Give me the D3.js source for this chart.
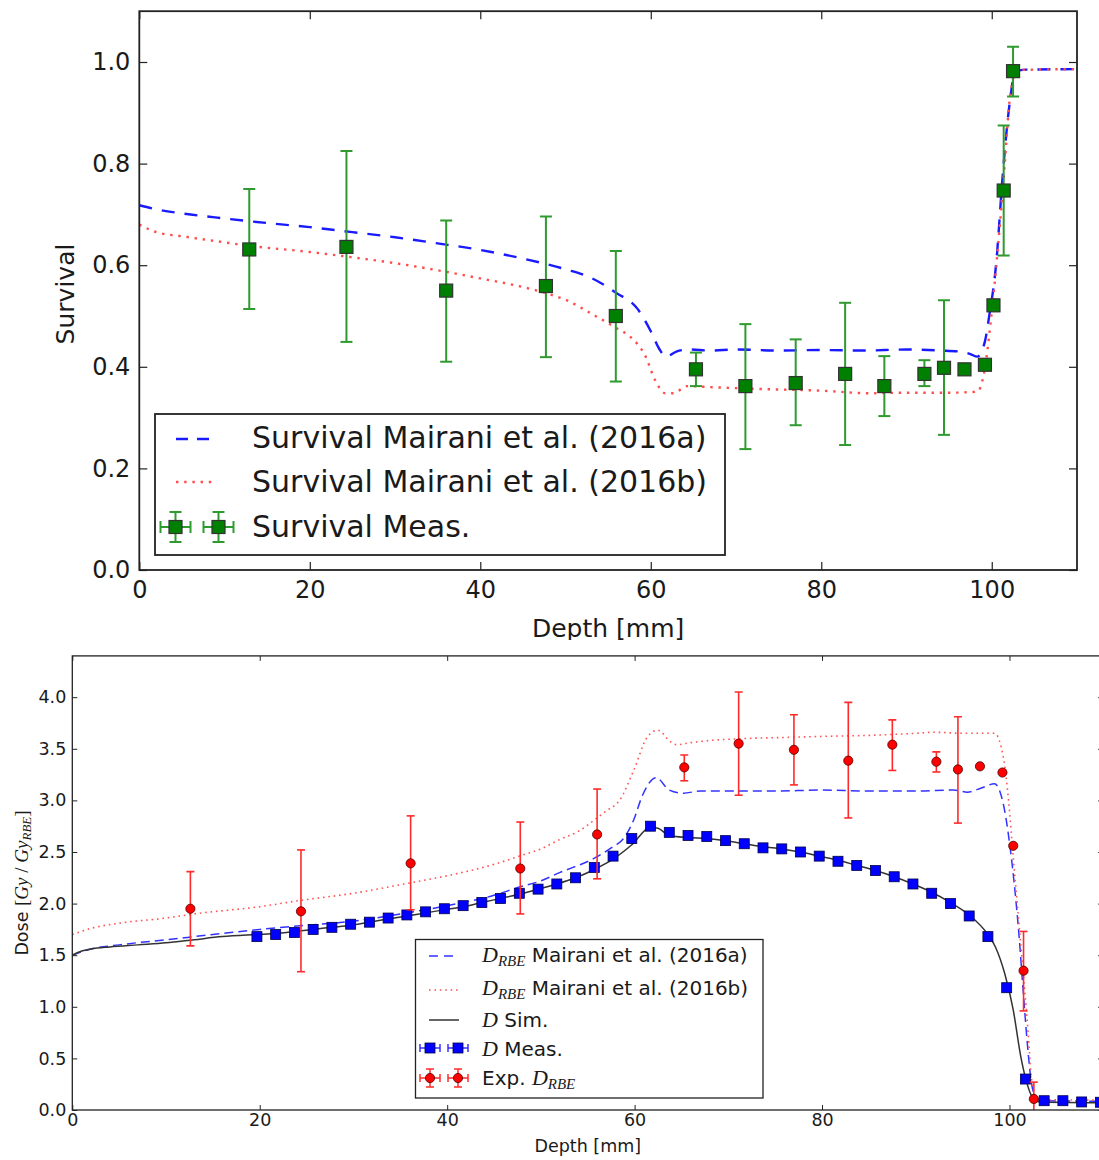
<!DOCTYPE html>
<html>
<head>
<meta charset="utf-8">
<script src="https://cdn.jsdelivr.net/npm/d3@7"></script>
<style>
  body { margin: 0; background: #fff; }
  svg { display: block; }
  text { font-family: "DejaVu Sans", sans-serif; fill: #1a1a1a; }
</style>
</head>
<body>
<script>
// ---------------- Survival panel data ----------------
const survTickX = [0, 20, 40, 60, 80, 100];
const survTickY = [0, 0.2, 0.4, 0.6, 0.8, 1.0];

// Survival, Mairani et al. (2016a)
const survADepth = [0, 2, 5, 10, 15, 20, 25, 30, 35, 40, 45, 50, 53, 56, 58.4, 60, 61, 61.8, 63, 64.5, 67, 70, 75, 80, 85, 90, 94, 96.2, 97.5, 98.3, 99.2, 99.7, 100.5, 101.3, 102, 102.8, 104, 110];
const survAValue = [0.718, 0.71, 0.702, 0.692, 0.683, 0.675, 0.665, 0.655, 0.643, 0.630, 0.613, 0.592, 0.575, 0.545, 0.515, 0.47, 0.435, 0.42, 0.43, 0.434, 0.432, 0.434, 0.432, 0.433, 0.432, 0.434, 0.432, 0.43, 0.425, 0.42, 0.45, 0.5, 0.6, 0.78, 0.905, 0.981, 0.985, 0.986];

// Survival, Mairani et al. (2016b)
const survBDepth = [0, 2, 5, 10, 13, 20, 24.3, 30, 36, 40, 45, 47.7, 50, 53.3, 56, 57.6, 59.4, 60.5, 61.7, 62.6, 64.3, 67, 70, 73.5, 80, 85.6, 90, 95, 98.3, 99.1, 99.9, 100.7, 101.5, 102.1, 102.95, 105, 110];
const survBValue = [0.68, 0.665, 0.657, 0.645, 0.638, 0.626, 0.617, 0.604, 0.587, 0.574, 0.557, 0.545, 0.532, 0.502, 0.476, 0.459, 0.42, 0.374, 0.348, 0.348, 0.362, 0.36, 0.358, 0.356, 0.353, 0.348, 0.349, 0.349, 0.351, 0.388, 0.492, 0.63, 0.794, 0.925, 0.984, 0.985, 0.986];

// Survival, measured
const survMeasDepth = [12.9, 24.3, 36.0, 47.7, 55.9, 65.3, 71.1, 77.0, 82.8, 87.4, 92.1, 94.4, 96.8, 99.2, 100.2, 101.4, 102.5];
const survMeasValue = [0.631, 0.636, 0.550, 0.559, 0.500, 0.395, 0.362, 0.368, 0.386, 0.362, 0.386, 0.398, 0.395, 0.404, 0.521, 0.747, 0.982];
const survMeasLow   = [0.514, 0.449, 0.410, 0.419, 0.371, 0.362, 0.238, 0.285, 0.246, 0.303, 0.362, 0.266, 0.395, 0.404, 0.521, 0.619, 0.932];
const survMeasHigh  = [0.750, 0.825, 0.688, 0.696, 0.628, 0.428, 0.484, 0.454, 0.526, 0.421, 0.413, 0.531, 0.395, 0.404, 0.521, 0.875, 1.030];

// ---------------- Dose panel data ----------------
const doseTickX = [0, 20, 40, 60, 80, 100];
const doseTickY = [0, 0.5, 1.0, 1.5, 2.0, 2.5, 3.0, 3.5, 4.0];

// D_RBE, Mairani et al. (2016a)
const drbeADepth = [0, 2, 5, 10, 15, 20, 25, 30, 35, 40, 45, 47.7, 50, 52, 55.7, 57.5, 58.9, 59.9, 60.8, 62.3, 63.7, 65.2, 67, 70, 75, 80, 85, 90, 94, 95.5, 97, 98.4, 99.4, 100.1, 100.5, 101.0, 101.4, 101.9, 102.3, 102.8, 103.5, 110];
const drbeAValue = [1.50, 1.56, 1.60, 1.65, 1.70, 1.75, 1.79, 1.83, 1.90, 1.98, 2.08, 2.16, 2.22, 2.30, 2.44, 2.54, 2.64, 2.81, 3.04, 3.22, 3.10, 3.07, 3.09, 3.09, 3.09, 3.10, 3.09, 3.09, 3.10, 3.08, 3.12, 3.16, 2.94, 2.52, 2.20, 1.71, 1.23, 0.65, 0.29, 0.12, 0.09, 0.085];

// D_RBE, Mairani et al. (2016b)
const drbeBDepth = [0, 2, 5, 10, 13, 20, 24.3, 30, 36, 40, 45, 47.7, 50, 52, 54, 55.7, 57, 58.4, 59.9, 61.4, 62.5, 63.8, 64.5, 66, 68, 72, 76, 80, 85, 90, 92, 95, 98.4, 99.4, 99.9, 100.4, 100.8, 101.4, 102.0, 102.3, 102.8, 103.5, 110];
const drbeBValue = [1.70, 1.76, 1.81, 1.86, 1.90, 1.97, 2.03, 2.10, 2.20, 2.27, 2.38, 2.46, 2.53, 2.62, 2.70, 2.81, 2.90, 3.00, 3.29, 3.62, 3.68, 3.57, 3.54, 3.56, 3.58, 3.60, 3.61, 3.62, 3.63, 3.65, 3.66, 3.65, 3.65, 3.39, 3.00, 2.45, 2.03, 1.39, 0.74, 0.35, 0.13, 0.10, 0.095];

// D, simulated
const doseSimDepth = [0, 1, 2, 4, 7, 10, 13, 16, 19.7, 21.7, 23.7, 25.7, 27.7, 29.7, 31.7, 33.7, 35.7, 37.7, 39.7, 41.7, 43.7, 45.7, 47.7, 49.7, 51.7, 53.7, 55.7, 57.7, 59.7, 61.7, 62.5, 63.7, 65.7, 67.7, 69.7, 71.7, 73.7, 75.7, 77.7, 79.7, 81.7, 83.7, 85.7, 87.7, 89.7, 91.7, 93.7, 95.7, 97.7, 98.5, 99.5, 100.4, 101.2, 101.8, 102.4, 103.1, 104, 110];
const doseSimValue = [1.50, 1.54, 1.56, 1.58, 1.60, 1.62, 1.65, 1.68, 1.70, 1.71, 1.73, 1.75, 1.77, 1.79, 1.82, 1.85, 1.88, 1.91, 1.94, 1.97, 2.01, 2.05, 2.09, 2.14, 2.19, 2.25, 2.33, 2.43, 2.57, 2.74, 2.73, 2.66, 2.64, 2.63, 2.61, 2.58, 2.55, 2.53, 2.50, 2.46, 2.42, 2.37, 2.32, 2.26, 2.19, 2.11, 2.01, 1.89, 1.70, 1.58, 1.32, 0.97, 0.52, 0.28, 0.13, 0.08, 0.075, 0.07];

// D, measured
const doseMeasDepth = [19.7, 21.7, 23.7, 25.7, 27.7, 29.7, 31.7, 33.7, 35.7, 37.7, 39.7, 41.7, 43.7, 45.7, 47.7, 49.7, 51.7, 53.7, 55.7, 57.7, 59.7, 61.7, 63.7, 65.7, 67.7, 69.7, 71.7, 73.7, 75.7, 77.7, 79.7, 81.7, 83.7, 85.7, 87.7, 89.7, 91.7, 93.7, 95.7, 97.7, 99.7, 101.7, 103.7, 105.7, 107.7, 109.7];
const doseMeasValue = [1.68, 1.70, 1.72, 1.75, 1.77, 1.80, 1.82, 1.86, 1.89, 1.92, 1.95, 1.98, 2.01, 2.05, 2.10, 2.14, 2.19, 2.25, 2.35, 2.46, 2.63, 2.75, 2.69, 2.66, 2.65, 2.61, 2.58, 2.54, 2.53, 2.50, 2.46, 2.41, 2.37, 2.32, 2.26, 2.19, 2.10, 2.00, 1.88, 1.68, 1.185, 0.30, 0.09, 0.09, 0.078, 0.075];

// Exp. D_RBE
const expDepth = [12.6, 24.4, 36.1, 47.8, 56.0, 65.3, 71.1, 77.0, 82.8, 87.5, 92.2, 94.5, 96.85, 99.25, 100.4, 101.5, 102.6];
const expValue = [1.95, 1.925, 2.39, 2.34, 2.67, 3.32, 3.55, 3.49, 3.385, 3.54, 3.375, 3.30, 3.33, 3.27, 2.56, 1.35, 0.107];
const expLow   = [1.59, 1.34, 1.94, 1.90, 2.24, 3.19, 3.05, 3.15, 2.83, 3.29, 3.275, 2.78, 3.33, 3.27, 2.56, 0.96, -0.10];
const expHigh  = [2.31, 2.52, 2.85, 2.79, 3.11, 3.44, 4.05, 3.83, 3.95, 3.78, 3.47, 3.81, 3.33, 3.27, 2.56, 1.73, 0.27];

// ---------------- drawing ----------------
const W = 1099, H = 1160;
const SERIF = "'Liberation Serif', 'DejaVu Serif', serif";
const zip = (xs, ys) => xs.map((x, i) => [x, ys[i]]);

const svg = d3.select("body").append("svg").attr("width", W).attr("height", H);
const defs = svg.append("defs");

function clipRect(id, x, y, w, h) {
  defs.append("clipPath").attr("id", id).append("rect")
    .attr("x", x).attr("y", y).attr("width", w).attr("height", h);
  return `url(#${id})`;
}

function drawAxes(g, x, y, o) {
  const [x0, x1] = x.range(), [y0, y1] = y.range();
  const style = sel => {
    sel.select(".domain").remove();
    sel.attr("font-family", "DejaVu Sans").attr("font-size", o.font);
    sel.selectAll(".tick line").attr("stroke", "#222").attr("stroke-width", o.tw);
    sel.selectAll(".tick text").attr("fill", "#1a1a1a");
  };
  g.append("g").attr("transform", `translate(0,${y0})`)
    .call(d3.axisBottom(x).tickValues(o.xt).tickSize(-o.tl).tickSizeOuter(0).tickPadding(o.xp).tickFormat(d3.format("d")))
    .call(style);
  g.append("g").attr("transform", `translate(${x0},0)`)
    .call(d3.axisLeft(y).tickValues(o.yt).tickSize(-o.tl).tickSizeOuter(0).tickPadding(o.yp).tickFormat(d3.format(".1f")))
    .call(style);
  g.append("g").attr("transform", `translate(0,${y1})`)
    .call(d3.axisTop(x).tickValues(o.xt).tickSize(-o.tl).tickSizeOuter(0).tickFormat(""))
    .call(style);
  g.append("g").attr("transform", `translate(${x1},0)`)
    .call(d3.axisRight(y).tickValues(o.yt).tickSize(-o.tl).tickSizeOuter(0).tickFormat(""))
    .call(style);
  g.append("rect").attr("x", x0).attr("y", y1).attr("width", x1 - x0).attr("height", y0 - y1)
    .attr("fill", "none").attr("stroke", "#222").attr("stroke-width", o.sw);
}

function errorBars(g, x, y, depth, low, high, color, width, cap) {
  const pts = depth.map((d, i) => ({ d, lo: low[i], hi: high[i] }));
  const e = g.append("g").attr("stroke", color).attr("stroke-width", width);
  e.selectAll(".v").data(pts).join("line")
    .attr("x1", p => x(p.d)).attr("x2", p => x(p.d)).attr("y1", p => y(p.lo)).attr("y2", p => y(p.hi));
  e.selectAll(".lo").data(pts).join("line")
    .attr("x1", p => x(p.d) - cap).attr("x2", p => x(p.d) + cap).attr("y1", p => y(p.lo)).attr("y2", p => y(p.lo));
  e.selectAll(".hi").data(pts).join("line")
    .attr("x1", p => x(p.d) - cap).attr("x2", p => x(p.d) + cap).attr("y1", p => y(p.hi)).attr("y2", p => y(p.hi));
}

// ================= Survival panel =================
const topFig = svg.append("g").attr("clip-path", clipRect("topFigClip", 0, 0, W, 640));
const xS = d3.scaleLinear().domain([0, 110]).range([139.3, 1077]);
const yS = d3.scaleLinear().domain([0, 1.1]).range([570, 11.2]);
const topPlot = topFig.append("g").attr("clip-path", clipRect("topPlotClip", 139.3, 11.2, 1077 - 139.3, 570 - 11.2));

const lineS = d3.line().x(d => xS(d[0])).y(d => yS(d[1])).curve(d3.curveMonotoneX);
topPlot.append("path").attr("d", lineS(zip(survADepth, survAValue)))
  .attr("fill", "none").attr("stroke", "#1a1aff").attr("stroke-width", 2.4).attr("stroke-dasharray", "13,10");
topPlot.append("path").attr("d", lineS(zip(survBDepth, survBValue)))
  .attr("fill", "none").attr("stroke", "#ff4d4d").attr("stroke-width", 2.4).attr("stroke-dasharray", "2.4,5.8");

errorBars(topPlot, xS, yS, survMeasDepth, survMeasLow, survMeasHigh, "#2f9a2f", 2, 6);
topPlot.append("g").selectAll("rect").data(zip(survMeasDepth, survMeasValue)).join("rect")
  .attr("x", d => xS(d[0]) - 6.5).attr("y", d => yS(d[1]) - 6.5).attr("width", 13).attr("height", 13)
  .attr("fill", "#008000").attr("stroke", "#333").attr("stroke-width", 1.2);

drawAxes(topFig, xS, yS, { xt: survTickX, yt: survTickY, tl: 8, xp: 11, yp: 9, font: 24, tw: 1.2, sw: 1.8 });

topFig.append("text").attr("x", xS(55)).attr("y", 637).attr("text-anchor", "middle")
  .attr("font-size", 25).text("Depth [mm]");
topFig.append("text").attr("transform", "translate(74,294) rotate(-90)").attr("text-anchor", "middle")
  .attr("font-size", 25).text("Survival");

// legend
const lgT = topFig.append("g");
lgT.append("rect").attr("x", 155).attr("y", 414).attr("width", 570).attr("height", 141)
  .attr("fill", "#fff").attr("stroke", "#222").attr("stroke-width", 1.8);
lgT.append("line").attr("x1", 176).attr("x2", 215).attr("y1", 439).attr("y2", 439)
  .attr("stroke", "#1a1aff").attr("stroke-width", 2.4).attr("stroke-dasharray", "12,9");
lgT.append("line").attr("x1", 176).attr("x2", 215).attr("y1", 482).attr("y2", 482)
  .attr("stroke", "#ff4d4d").attr("stroke-width", 2.4).attr("stroke-dasharray", "2.4,5.8");
[175.5, 218.5].forEach(cx => {
  const cy = 527, g = lgT.append("g").attr("stroke", "#2f9a2f").attr("stroke-width", 2);
  g.append("line").attr("x1", cx - 15).attr("x2", cx + 15).attr("y1", cy).attr("y2", cy);
  g.append("line").attr("x1", cx).attr("x2", cx).attr("y1", cy - 15).attr("y2", cy + 15);
  g.append("line").attr("x1", cx - 15).attr("x2", cx - 15).attr("y1", cy - 6).attr("y2", cy + 6);
  g.append("line").attr("x1", cx + 15).attr("x2", cx + 15).attr("y1", cy - 6).attr("y2", cy + 6);
  g.append("line").attr("x1", cx - 6).attr("x2", cx + 6).attr("y1", cy - 15).attr("y2", cy - 15);
  g.append("line").attr("x1", cx - 6).attr("x2", cx + 6).attr("y1", cy + 15).attr("y2", cy + 15);
  lgT.append("rect").attr("x", cx - 6.5).attr("y", cy - 6.5).attr("width", 13).attr("height", 13)
    .attr("fill", "#008000").attr("stroke", "#333").attr("stroke-width", 1.2);
});
[["Survival Mairani et al. (2016a)", 448], ["Survival Mairani et al. (2016b)", 492], ["Survival Meas.", 537]]
  .forEach(([t, yb]) => lgT.append("text").attr("x", 252).attr("y", yb).attr("font-size", 30).text(t));

// ================= Dose panel =================
const botFig = svg.append("g");
const xD = d3.scaleLinear().domain([0, 110]).range([72.3, 1103.2]);
const yD = d3.scaleLinear().domain([0, 4.4]).range([1110, 655.9]);
const botPlot = botFig.append("g").attr("clip-path", clipRect("botPlotClip", 72.3, 655.9, 1103.2 - 72.3, 1110 - 655.9));

const lineD = d3.line().x(d => xD(d[0])).y(d => yD(d[1])).curve(d3.curveMonotoneX);
botPlot.append("path").attr("d", lineD(zip(drbeADepth, drbeAValue)))
  .attr("fill", "none").attr("stroke", "#3333ff").attr("stroke-width", 1.5).attr("stroke-dasharray", "9,5");
botPlot.append("path").attr("d", lineD(zip(drbeBDepth, drbeBValue)))
  .attr("fill", "none").attr("stroke", "#ff5555").attr("stroke-width", 1.6).attr("stroke-dasharray", "1.6,3.8");
botPlot.append("path").attr("d", lineD(zip(doseSimDepth, doseSimValue)))
  .attr("fill", "none").attr("stroke", "#333").attr("stroke-width", 1.5);

botPlot.append("g").selectAll("rect").data(zip(doseMeasDepth, doseMeasValue)).join("rect")
  .attr("x", d => xD(d[0]) - 5).attr("y", d => yD(d[1]) - 5).attr("width", 10).attr("height", 10)
  .attr("fill", "#0000ff").attr("stroke", "#00004d").attr("stroke-width", 0.8);

errorBars(botPlot, xD, yD, expDepth, expLow, expHigh, "#ff2a2a", 1.6, 4);
botPlot.append("g").selectAll("circle").data(zip(expDepth, expValue)).join("circle")
  .attr("cx", d => xD(d[0])).attr("cy", d => yD(d[1])).attr("r", 4.6)
  .attr("fill", "#ff0000").attr("stroke", "#4d0000").attr("stroke-width", 0.8);

drawAxes(botFig, xD, yD, { xt: doseTickX, yt: doseTickY, tl: 5, xp: 4, yp: 6, font: 17.5, tw: 1, sw: 1.3 });

botFig.append("text").attr("x", xD(55)).attr("y", 1152).attr("text-anchor", "middle")
  .attr("font-size", 17.5).text("Depth [mm]");

const yl = botFig.append("text").attr("transform", "translate(28,883) rotate(-90)")
  .attr("text-anchor", "middle").attr("font-size", 17.5);
yl.append("tspan").text("Dose ");
yl.append("tspan").attr("font-family", SERIF).attr("font-size", 19).text("[");
yl.append("tspan").attr("font-family", SERIF).attr("font-style", "italic").attr("font-size", 19).text("Gy");
yl.append("tspan").attr("font-family", SERIF).attr("font-size", 19).text(" / ");
yl.append("tspan").attr("font-family", SERIF).attr("font-style", "italic").attr("font-size", 19).text("Gy");
yl.append("tspan").attr("font-family", SERIF).attr("font-style", "italic").attr("font-size", 13).attr("dy", 3).text("RBE");
yl.append("tspan").attr("font-family", SERIF).attr("font-size", 19).attr("dy", -3).text("]");

// legend
const lgB = botFig.append("g");
lgB.append("rect").attr("x", 415.5).attr("y", 939.5).attr("width", 347.5).attr("height", 158.5)
  .attr("fill", "#fff").attr("stroke", "#222").attr("stroke-width", 1.3);
lgB.append("line").attr("x1", 429).attr("x2", 459).attr("y1", 956).attr("y2", 956)
  .attr("stroke", "#3333ff").attr("stroke-width", 1.5).attr("stroke-dasharray", "9,6");
lgB.append("line").attr("x1", 429).attr("x2", 459).attr("y1", 990).attr("y2", 990)
  .attr("stroke", "#ff5555").attr("stroke-width", 1.6).attr("stroke-dasharray", "1.6,3.8");
lgB.append("line").attr("x1", 429).attr("x2", 459).attr("y1", 1020).attr("y2", 1020)
  .attr("stroke", "#333").attr("stroke-width", 1.5);
[430, 458].forEach(cx => {
  let cy = 1048, g = lgB.append("g").attr("stroke", "#3333ff").attr("stroke-width", 1.5);
  g.append("line").attr("x1", cx - 10).attr("x2", cx + 10).attr("y1", cy).attr("y2", cy);
  g.append("line").attr("x1", cx - 10).attr("x2", cx - 10).attr("y1", cy - 4).attr("y2", cy + 4);
  g.append("line").attr("x1", cx + 10).attr("x2", cx + 10).attr("y1", cy - 4).attr("y2", cy + 4);
  lgB.append("rect").attr("x", cx - 5).attr("y", cy - 5).attr("width", 10).attr("height", 10)
    .attr("fill", "#0000ff").attr("stroke", "#00004d").attr("stroke-width", 0.8);
  cy = 1078; g = lgB.append("g").attr("stroke", "#ff2a2a").attr("stroke-width", 1.5);
  g.append("line").attr("x1", cx - 10).attr("x2", cx + 10).attr("y1", cy).attr("y2", cy);
  g.append("line").attr("x1", cx - 10).attr("x2", cx - 10).attr("y1", cy - 4).attr("y2", cy + 4);
  g.append("line").attr("x1", cx + 10).attr("x2", cx + 10).attr("y1", cy - 4).attr("y2", cy + 4);
  g.append("line").attr("x1", cx).attr("x2", cx).attr("y1", cy - 9).attr("y2", cy + 9);
  g.append("line").attr("x1", cx - 4).attr("x2", cx + 4).attr("y1", cy - 9).attr("y2", cy - 9);
  g.append("line").attr("x1", cx - 4).attr("x2", cx + 4).attr("y1", cy + 9).attr("y2", cy + 9);
  lgB.append("circle").attr("cx", cx).attr("cy", cy).attr("r", 4.6)
    .attr("fill", "#ff0000").attr("stroke", "#4d0000").attr("stroke-width", 0.8);
});

// legend labels mixing math italics and plain text
function mathLabel(yb, parts) {
  const t = lgB.append("text").attr("x", 482).attr("y", yb).attr("font-size", 20);
  parts.forEach(p => {
    const s = t.append("tspan").text(p.t);
    if (p.m) s.attr("font-family", SERIF).attr("font-style", "italic").attr("font-size", p.sub ? 15 : 22);
    if (p.dy) s.attr("dy", p.dy);
  });
}
const DRBE = [{ t: "D", m: 1 }, { t: "RBE", m: 1, sub: 1, dy: 4 }];
mathLabel(962, [...DRBE, { t: " Mairani et al. (2016a)", dy: -4 }]);
mathLabel(995, [...DRBE, { t: " Mairani et al. (2016b)", dy: -4 }]);
mathLabel(1027, [{ t: "D", m: 1 }, { t: " Sim." }]);
mathLabel(1056, [{ t: "D", m: 1 }, { t: " Meas." }]);
mathLabel(1085, [{ t: "Exp. " }, ...DRBE]);
</script>
</body>
</html>
